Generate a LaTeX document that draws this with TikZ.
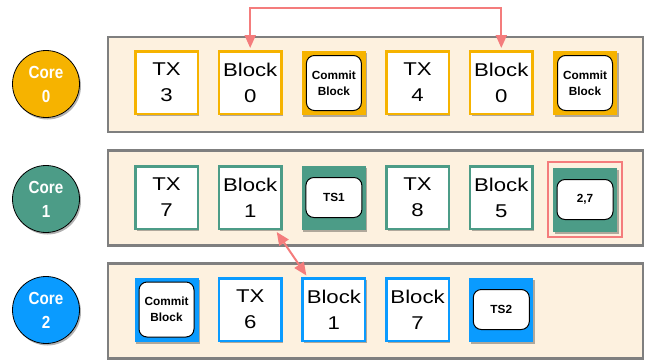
\documentclass[tikz,border=0pt]{standalone}
\usepackage{fontspec}
\setmainfont{Liberation Sans}
\newfontfamily\corefont[FakeStretch=0.87]{Liberation Sans}
\newfontfamily\boxfont[FakeStretch=1.2]{Liberation Sans}
\usetikzlibrary{shadows,arrows.meta,fit,calc}
\definecolor{coreorange}{HTML}{F6B300}
\definecolor{coregreen}{HTML}{4C9C87}
\definecolor{coreblue}{HTML}{0A9BFF}
\definecolor{lanefill}{HTML}{FDF1DF}
\definecolor{lanegray}{HTML}{7F7F7F}
\definecolor{linkred}{HTML}{F47C7C}
\tikzset{
  softshadow/.style={drop shadow={shadow xshift=1.5pt, shadow yshift=-2pt, fill=black, opacity=0.3}},
  lane/.style={rectangle, draw=lanegray, line width=2.5pt, fill=lanefill,
    minimum width=535pt, minimum height=95pt, inner sep=0pt},
  core/.style={circle, fill=#1, draw=black, line width=0.8pt, minimum size=67pt,
    inner sep=0pt, text=white, align=center, softshadow,
    font=\corefont\bfseries\fontsize{17.5}{24}\selectfont},
  txbox/.style={rectangle, fill=white, draw=#1, line width=2.5pt, minimum size=62.5pt,
    inner sep=0pt, align=center, softshadow, font=\boxfont\fontsize{18.5}{26}\selectfont},
  fillbox/.style={rectangle, fill=#1, minimum size=64pt, inner sep=0pt, softshadow},
  tag/.style={rectangle, rounded corners=8pt, draw=black, line width=1pt, fill=white,
    inner sep=0pt, align=center, font=\bfseries\fontsize{11.8}{16}\selectfont},
  committag/.style={tag, minimum width=55pt, minimum height=55pt},
  tstag/.style={tag, minimum width=56pt, minimum height=40pt},
  link/.style={draw=linkred, line width=2pt,
    {Triangle[width=11pt,length=13pt]}-{Triangle[width=11pt,length=13pt]}},
}
\begin{document}
\begin{tikzpicture}[x=1pt,y=-1pt]
\useasboundingbox (0,0) rectangle (647,362);

% lanes, one per core
\node[lane] (lane0) at (375.5,84.5) {};
\node[lane] (lane1) at (375.5,198) {};
\node[lane] (lane2) at (375.5,311) {};

% core badges
\node[core=coreorange] (core0) at (46,84) {Core\\0};
\node[core=coregreen]  (core1) at (46,199) {Core\\1};
\node[core=coreblue]   (core2) at (46,310) {Core\\2};

% core 0 queue
\node[txbox=coreorange] (b00) at (166.5,82.5) {TX\\3};
\node[txbox=coreorange] (b01) at (250.2,82.5) {Block\\0};
\node[fillbox=coreorange] (b02) at (333.9,83) {};
\node[committag] (t02) at (b02) {Commit\\Block};
\node[txbox=coreorange] (b03) at (417.6,82.5) {TX\\4};
\node[txbox=coreorange] (b04) at (501.3,82.5) {Block\\0};
\node[fillbox=coreorange] (b05) at (585,83) {};
\node[committag] (t05) at (b05) {Commit\\Block};

% core 1 queue
\node[txbox=coregreen] (b10) at (166.5,197.5) {TX\\7};
\node[txbox=coregreen] (b11) at (250.2,197.5) {Block\\1};
\node[fillbox=coregreen] (b12) at (333.9,197.5) {};
\node[tstag] (t12) at (b12) {TS1};
\node[txbox=coregreen] (b13) at (417.6,197.5) {TX\\8};
\node[txbox=coregreen] (b14) at (501.3,197.5) {Block\\5};
\node[fillbox=coregreen] (b15) at (585,199.5) {};
\node[tstag] (t15) at (b15) {2,7};
\node[draw=linkred, line width=2pt, inner sep=5pt, fit=(b15)] (mark15) {};

% core 2 queue
\node[fillbox=coreblue] (b20) at (166.5,309.5) {};
\node[committag] (t20) at (b20) {Commit\\Block};
\node[txbox=coreblue] (b21) at (250.2,309.5) {TX\\6};
\node[txbox=coreblue] (b22) at (333.9,309.5) {Block\\1};
\node[txbox=coreblue] (b23) at (417.6,309.5) {Block\\7};
\node[fillbox=coreblue] (b24) at (501.3,309.5) {};
\node[tstag] (t24) at (b24) {TS2};

% links between matching blocks
\draw[link, shorten <=2pt, shorten >=2pt]
  (b01.north) -- (b01.north |- 0,8) -| (b04.north);
\draw[link]
  ([xshift=-6pt,yshift=-2pt]b11.south east) -- ([xshift=5pt,yshift=1.5pt]b22.north west);
\end{tikzpicture}
\end{document}
